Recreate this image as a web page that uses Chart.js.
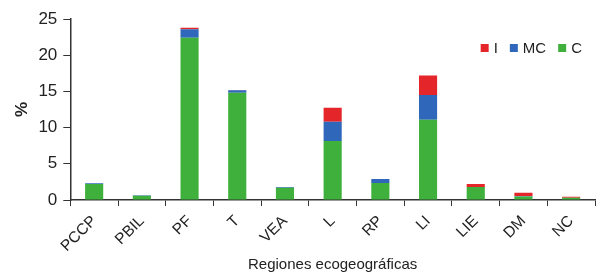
<!DOCTYPE html>
<html><head><meta charset="utf-8">
<script src="https://cdn.jsdelivr.net/npm/chart.js@4/dist/chart.umd.min.js"></script>
<style>html,body{margin:0;padding:0;background:#fff}#w{width:602px;height:276px}</style>
</head><body><div id="w"><canvas id="c"></canvas></div>
<script>
const categories = ["PCCP","PBIL","PF","T","VEA","L","RP","LI","LIE","DM","NC"];
const valuesC  = [2.2, 0.6, 22.4, 14.8, 1.7, 8.15, 2.35, 11.1, 1.8, 0.5, 0.3];
const valuesMC = [0.1, 0.05, 1.2, 0.35, 0.1, 2.65, 0.55, 3.4, 0.0, 0.05, 0.0];
const valuesI  = [0.0, 0.0, 0.2, 0.05, 0.0, 1.95, 0.0, 2.7, 0.4, 0.45, 0.15];
const yTicks = [0,5,10,15,20,25];

const F = "'Liberation Sans', Arial, sans-serif";

const insideLegend = {
  id: 'insideLegend',
  afterDraw(chart) {
    const ctx = chart.ctx, area = chart.chartArea;
    const items = chart.data.datasets.slice().reverse();
    ctx.save();
    ctx.font = "15px " + F;
    ctx.textBaseline = 'middle';
    const box = 8, gapBT = 5, gapItem = 12;
    let total = 0;
    items.forEach((d,i) => { total += box + gapBT + ctx.measureText(d.label).width + (i < items.length-1 ? gapItem : 0); });
    let x = area.right - 13 - total;
    const y = area.top + 29;
    items.forEach(d => {
      ctx.fillStyle = d.backgroundColor;
      ctx.fillRect(x, y - box/2, box, box);
      x += box + gapBT;
      ctx.fillStyle = '#222';
      ctx.fillText(d.label, x, y + 1);
      x += ctx.measureText(d.label).width + gapItem;
    });
    ctx.restore();
  }
};

new Chart(document.getElementById('c'), {
  type: 'bar',
  data: {
    labels: categories,
    datasets: [
      {label:'C', data: valuesC, backgroundColor:'#3fb03b'},
      {label:'MC', data: valuesMC, backgroundColor:'#2f68bb'},
      {label:'I', data: valuesI, backgroundColor:'#e4262b'}
    ]
  },
  plugins: [insideLegend],
  options: {
    responsive: true, maintainAspectRatio: false, animation: false,
    datasets: {bar: {barPercentage: 0.4, categoryPercentage: 0.95}},
    layout: {padding: {left: 12, right: 7, top: 19, bottom: 2}},
    plugins: {
      tooltip: {enabled:false},
      legend: {display: false}
    },
    scales: {
      x: {
        stacked: true,
        afterFit: s => { s.height = 74; },
        grid: {display: true, drawOnChartArea: false, offset: true, tickLength: 6, color:'#333'},
        border: {color:'#333', width: 1.5},
        ticks: {color:'#222', font:{family:F, size:15.5}, maxRotation:45, minRotation:45, padding: 6},
        title: {display:true, text:'Regiones ecogeográficas', color:'#222', font:{family:F, size:15}, padding:{top:0,bottom:0}}
      },
      y: {
        stacked: true, min: 0, max: 25,
        afterBuildTicks: s => { s.ticks = yTicks.map(v => ({value:v})); },
        grid: {display: true, drawOnChartArea: false, tickLength: 7, color:'#333'},
        border: {color:'#333', width: 1.5},
        ticks: {color:'#222', font:{family:F, size:17}, padding: 6},
        title: {display:true, text:'%', color:'#222', font:{family:F, size:17, weight:'bold'}, padding:{top:0,bottom:0}}
      }
    }
  }
});
</script></body></html>
